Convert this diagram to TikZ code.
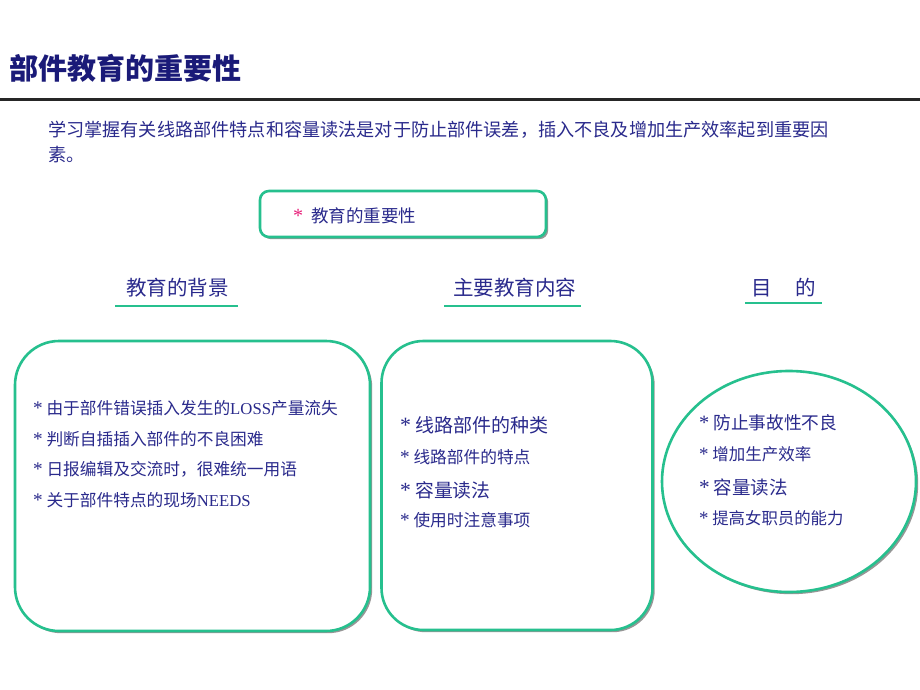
\documentclass[tikz,border=0pt]{standalone}
\usepackage{fontspec}
\setmainfont{Liberation Serif}
\newfontfamily\cjk{Noto Sans CJK SC}
\newfontfamily\lat{Liberation Serif}
\usetikzlibrary{shadows}
\definecolor{navy}{RGB}{42,42,140}
\definecolor{titlenavy}{RGB}{26,26,120}
\definecolor{tealb}{RGB}{38,192,142}
\definecolor{pinkstar}{RGB}{232,32,122}
\definecolor{shade}{RGB}{150,150,150}
\newcommand{\fsz}[1]{\fontsize{#1}{#1}\selectfont}
\newcommand{\bulstar}{{\lat\fontsize{1.15em}{1em}\selectfont *}}
\begin{document}
\begin{tikzpicture}[x=1pt,y=-1pt,
  txt/.style={anchor=west, inner sep=0pt, text=navy, font=\cjk},
  frame/.style={draw=tealb, line width=2.6pt, fill=white,
    drop shadow={shadow xshift=2.2pt, shadow yshift=-2.2pt, fill=shade, opacity=1}},
  uline/.style={draw=tealb, line width=1.2pt}]
\useasboundingbox (0,0) rectangle (920,690);
\fill[white] (0,0) rectangle (920,690);

% title
\node[txt, text=titlenavy, font=\cjk\bfseries\fsz{29}] (title) at (9,68) {部件教育的重要性};
\draw[line width=3.5pt, black!85] (0,99.5) -- (920,99.5);

% paragraph
\node[txt, font=\cjk\fsz{18.15}] (para1) at (48,130) {学习掌握有关线路部件特点和容量读法是对于防止部件误差，插入不良及增加生产效率起到重要因};
\node[txt, font=\cjk\fsz{18.15}] (para2) at (48,155) {素。};

% top box
\node[frame, rounded corners=9pt, minimum width=286pt, minimum height=46pt, inner sep=0pt] (topbox) at (403,214) {};
\node[txt, font=\fsz{17.5}] (toptext) at (293,216) {\textcolor{pinkstar}{\bulstar}\hspace{8pt}{\cjk 教育的重要性}};

% headings
\node[txt, font=\cjk\fsz{20.5}] (h1) at (126,288) {教育的背景};
\node[txt, font=\cjk\fsz{20.5}] (h2) at (453,288) {主要教育内容};
\node[txt, font=\cjk\fsz{20.5}] (h3) at (751,288) {目\hspace{24pt}的};
\draw[uline] (115,306) -- (238,306);
\draw[uline] (444,306) -- (581,306);
\draw[uline] (745,303) -- (822,303);

% left box
\node[frame, rounded corners=44pt, minimum width=355pt, minimum height=290pt, inner sep=0pt] (leftbox) at (192.5,486) {};
\node[txt, font=\cjk\fsz{16.7}] (l1) at (33,408) {\bulstar{} 由于部件错误插入发生的{\lat LOSS}产量流失};
\node[txt, font=\cjk\fsz{16.7}] (l2) at (33,439) {\bulstar{} 判断自插插入部件的不良困难};
\node[txt, font=\cjk\fsz{16.7}] (l3) at (33,469) {\bulstar{} 日报编辑及交流时，很难统一用语};
\node[txt, font=\cjk\fsz{16.7}] (l4) at (33,500) {\bulstar{} 关于部件特点的现场{\lat NEEDS}};

% middle box
\node[frame, rounded corners=42pt, minimum width=271pt, minimum height=289pt, inner sep=0pt] (midbox) at (517,485.5) {};
\node[txt, font=\cjk\fsz{19}] (m1) at (400,425) {\bulstar{} 线路部件的种类};
\node[txt, font=\cjk\fsz{16.7}] (m2) at (400,457) {\bulstar{} 线路部件的特点};
\node[txt, font=\cjk\fsz{18.8}] (m3) at (400,490) {\bulstar{} 容量读法};
\node[txt, font=\cjk\fsz{16.7}] (m4) at (400,520) {\bulstar{} 使用时注意事项};

% ellipse
\draw[tealb, line width=2.6pt, fill=white,
  drop shadow={shadow xshift=2.2pt, shadow yshift=-2.2pt, fill=shade, opacity=1}]
  (789,481.5) ellipse [x radius=127, y radius=110.5];
\node[txt, font=\cjk\fsz{17.7}] (e1) at (699,423) {\bulstar{} 防止事故性不良};
\node[txt, font=\cjk\fsz{16.5}] (e2) at (699,454) {\bulstar{} 增加生产效率};
\node[txt, font=\cjk\fsz{18.5}] (e3) at (699,487) {\bulstar{} 容量读法};
\node[txt, font=\cjk\fsz{16.4}] (e4) at (699,518) {\bulstar{} 提高女职员的能力};
\end{tikzpicture}
\end{document}
